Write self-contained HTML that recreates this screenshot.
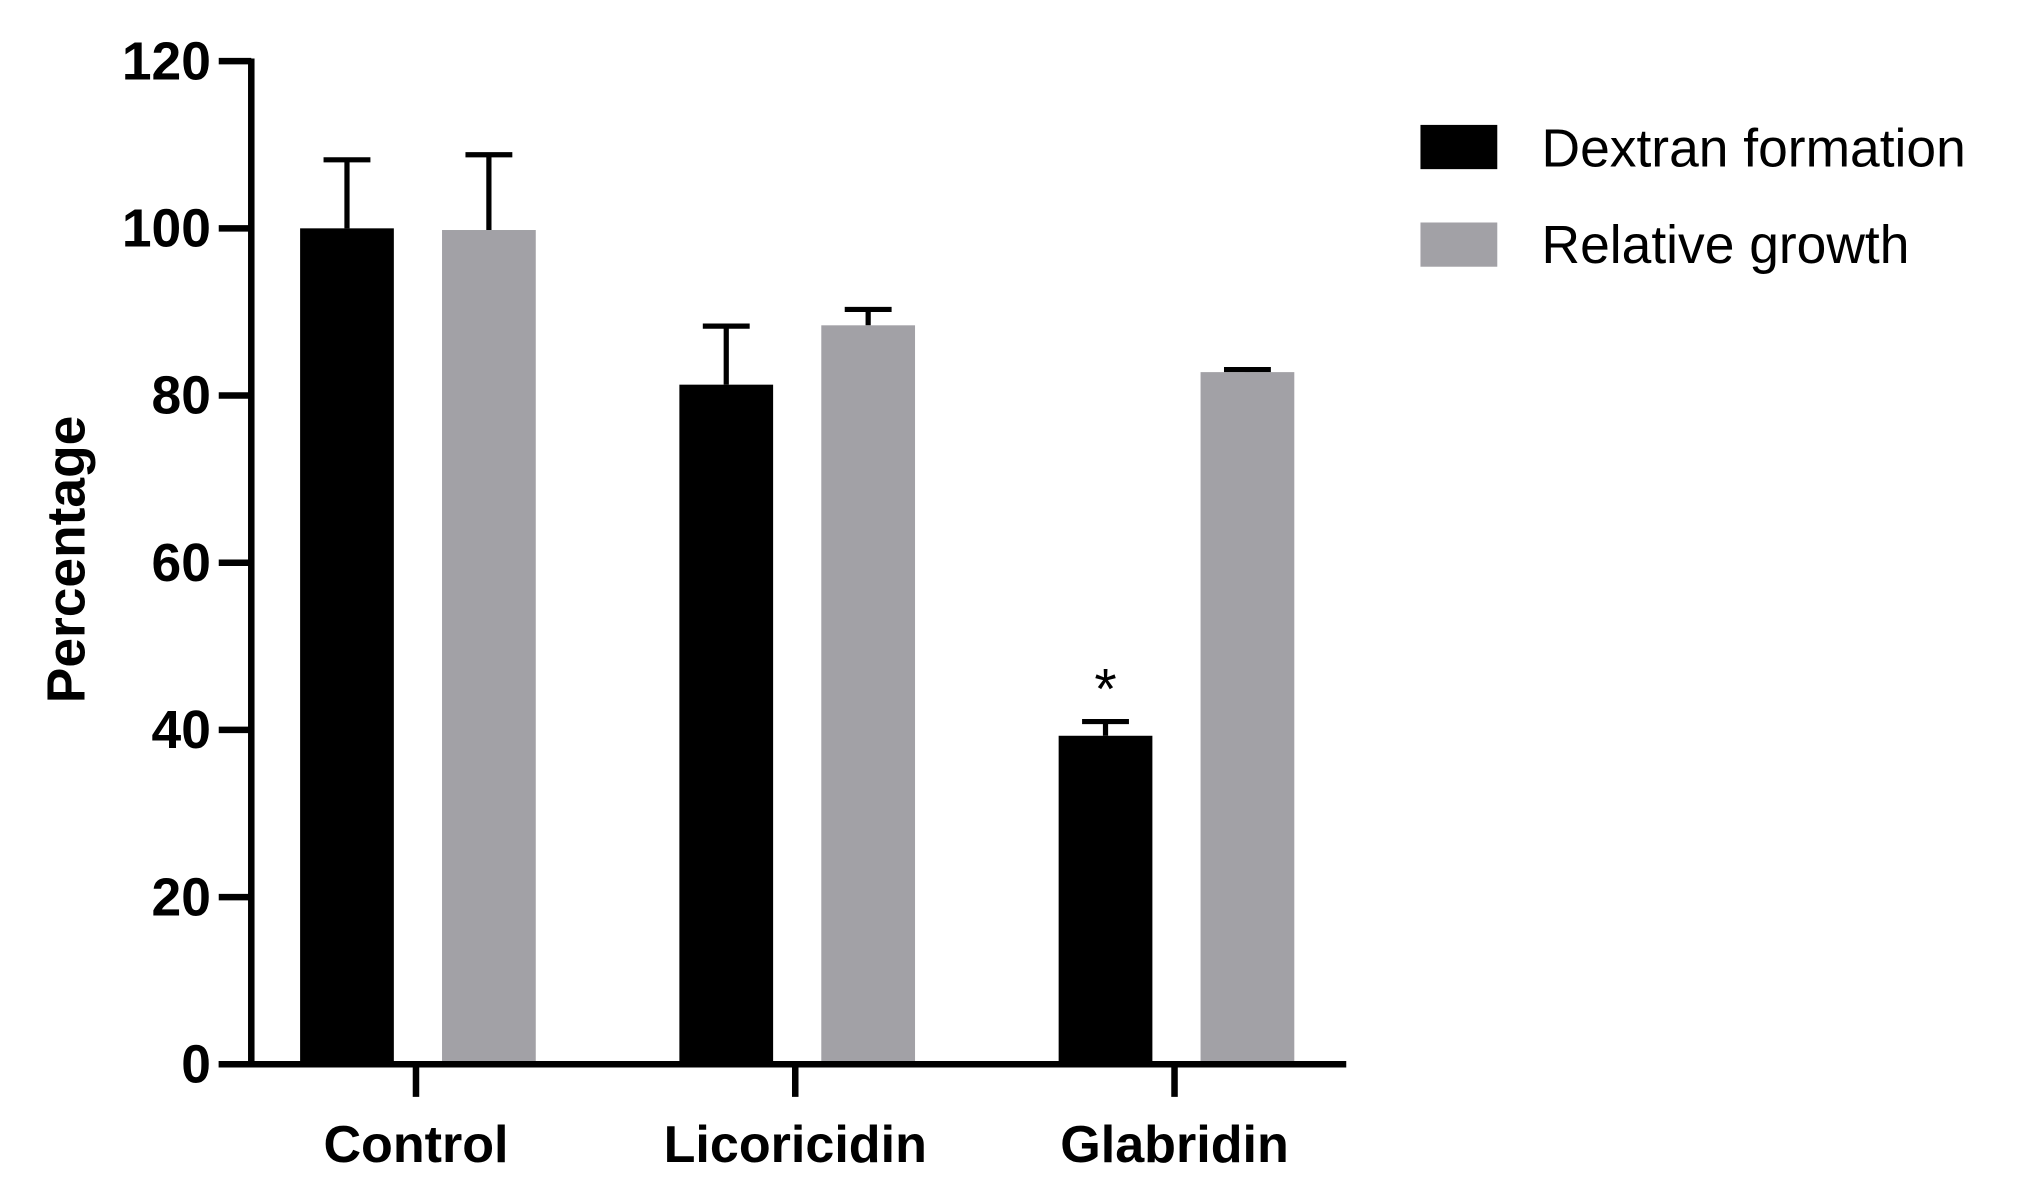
<!DOCTYPE html>
<html><head><meta charset="utf-8"><style>
html,body{margin:0;padding:0;background:#fff;}
svg{display:block;font-family:"Liberation Sans",sans-serif;}
</style></head><body>
<svg id="chart" width="2035" height="1197" viewBox="0 0 1563 920" preserveAspectRatio="none" xmlns="http://www.w3.org/2000/svg">
<g id="marks"></g>
<g id="axes"></g>
<text transform="translate(65,430) rotate(-90)" text-anchor="middle" font-size="41" font-weight="bold" fill="#000">Percentage</text>
<g>
<rect x="1091" y="96" width="59" height="34" fill="#000"/>
<text x="1184" y="128" font-size="41" fill="#000">Dextran formation</text>
<rect x="1091" y="171" width="59" height="34" fill="#a2a1a6"/>
<text x="1184" y="202" font-size="41" fill="#000">Relative growth</text>
</g>
</svg>
<script>
const categories = ["Control","Licoricidin","Glabridin"];
const dextran = [100, 81.3, 39.3];
const dextranErr = [8.2, 7.0, 1.7];
const growth = [99.8, 88.4, 82.8];
const growthErr = [9.0, 1.9, 0.3];
const yTicks = [0,20,40,60,80,100,120];

const NS="http://www.w3.org/2000/svg";
const y0=818, yTop=47;
const y = v => y0 - (v/120)*(y0-yTop);
const catX = i => 319.5 + i*291.3;
const barW = 72;
const marks=document.getElementById('marks');
const axes=document.getElementById('axes');
function mk(tag, attrs, parent){const e=document.createElementNS(NS,tag);for(const k in attrs)e.setAttribute(k,attrs[k]);parent.appendChild(e);return e;}

const series=[{vals:dextran,err:dextranErr,color:"#000",off:-53,name:"dextran"},{vals:growth,err:growthErr,color:"#a2a1a6",off:56,name:"growth"}];
series.forEach(s=>{
  s.vals.forEach((v,i)=>{
    const cx=catX(i)+s.off;
    const top=y(v+s.err[i]);
    const l=mk('line',{x1:cx,x2:cx,y1:y(v),y2:top,stroke:"#000","stroke-width":4},marks);
    
    
    const c=mk('line',{x1:cx-18,x2:cx+18,y1:top,y2:top,stroke:"#000","stroke-width":4},marks);
    
    
    const r=mk('rect',{x:cx-barW/2,y:y(v),width:barW,height:y0-y(v),fill:s.color},marks);
    
    
  });
});
const st=mk('text',{x:catX(2)-53,y:y(dextran[2]+dextranErr[2])-10,"text-anchor":"middle","font-size":44,fill:"#000"},marks);
st.textContent="*";



const ya=mk('line',{x1:193,x2:193,y1:yTop-2,y2:y0+2,stroke:"#000","stroke-width":5},axes);


const xa=mk('line',{x1:168,x2:1034,y1:y0,y2:y0,stroke:"#000","stroke-width":5},axes);


yTicks.forEach(t=>{
  const tk=mk('line',{x1:168,x2:193,y1:y(t),y2:y(t),stroke:"#000","stroke-width":5},axes);
  
  
  const tx=mk('text',{x:162,y:y(t)+14,"text-anchor":"end","font-size":41,"font-weight":"bold",fill:"#000"},axes);
  tx.textContent=t;
  
  
});
categories.forEach((c,i)=>{
  const tk=mk('line',{x1:catX(i),x2:catX(i),y1:y0,y2:843,stroke:"#000","stroke-width":5},axes);
  
  
  const tx=mk('text',{x:catX(i),y:893,"text-anchor":"middle","font-size":40,"font-weight":"bold",fill:"#000"},axes);
  tx.textContent=c;
  
  
});
</script>
</body></html>
